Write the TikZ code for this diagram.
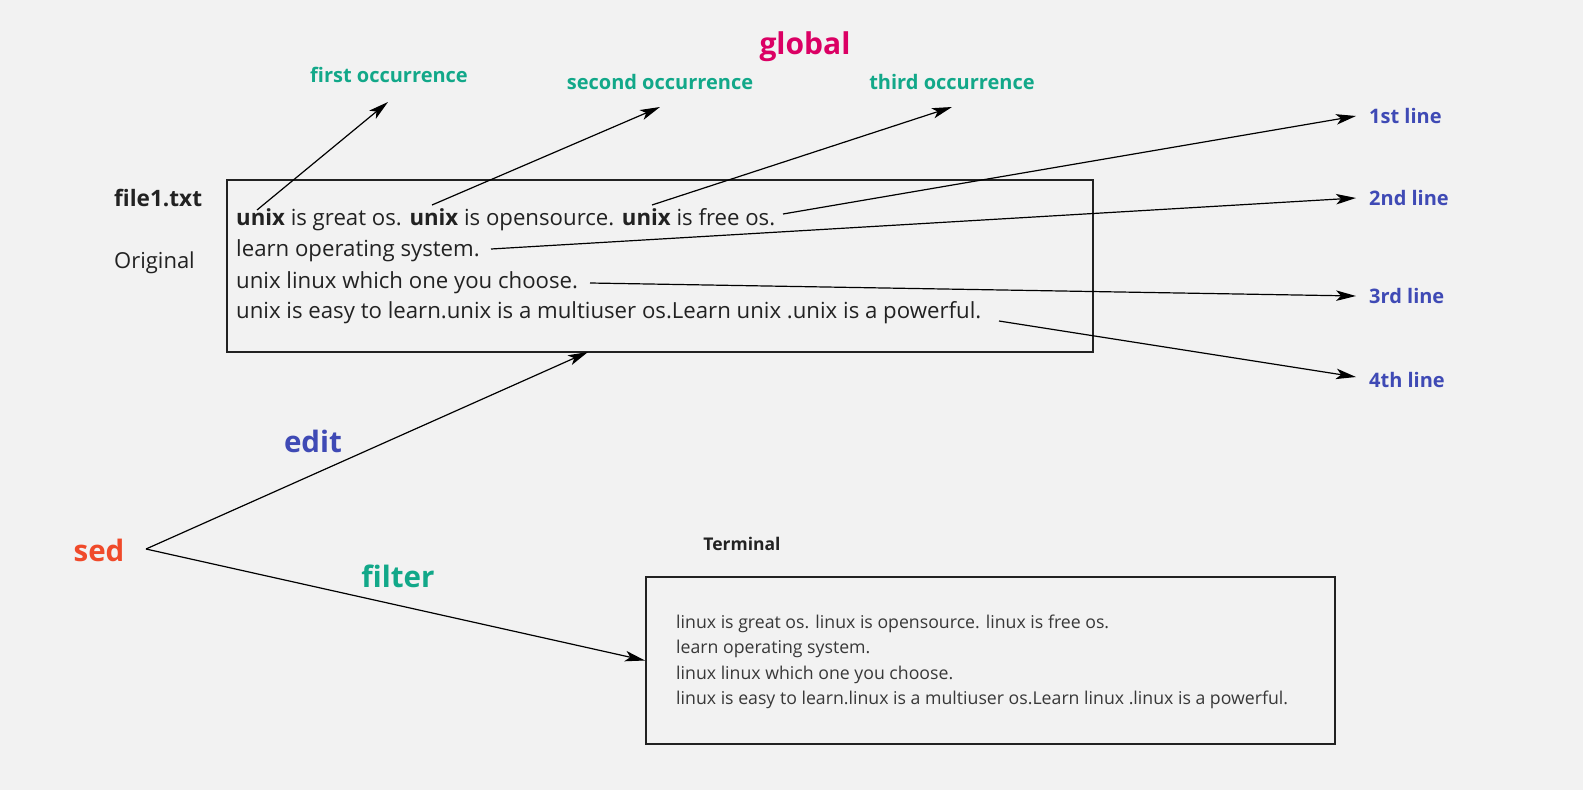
\documentclass[tikz,border=0pt]{standalone}
\usepackage{fontspec}
\setmainfont{Open Sans}
\usetikzlibrary{arrows.meta}
\definecolor{bg}{HTML}{F2F2F2}
\definecolor{ink}{HTML}{222222}
\definecolor{magen}{HTML}{DB0064}
\definecolor{teal}{HTML}{12A889}
\definecolor{blu}{HTML}{3F4AB5}
\definecolor{orng}{HTML}{F04A2A}
\tikzset{
  frame/.style={draw=ink, line width=2pt, minimum width=#1, inner sep=0pt},
  bodytxt/.style={inner sep=0pt, anchor=base west, text=ink, font=\fontsize{22.2}{26}\selectfont},
  termtxt/.style={inner sep=0pt, anchor=base west, text=ink!90, font=\fontsize{17.7}{21}\selectfont},
  occ/.style={inner sep=0pt, text=teal, font=\bfseries\fontsize{20}{24}\selectfont},
  linelbl/.style={inner sep=0pt, anchor=west, text=blu, font=\bfseries\fontsize{20}{24}\selectfont},
  big/.style={inner sep=0pt, font=\bfseries\fontsize{29.5}{34}\selectfont},
  arr/.style={draw=black, line width=1.2pt, -{Stealth[length=20pt,width=10.5pt,inset=5pt]}},
  plain/.style={draw=black, line width=1.2pt}
}
\begin{document}
\begin{tikzpicture}[x=1pt,y=-1pt]
\fill[bg] (0,0) rectangle (1583,790);
\useasboundingbox (0,0) rectangle (1583,790);

% boxes
\node[frame=866, minimum height=172] (box1) at (660,266) {};
\node[frame=689, minimum height=167] (term) at (990.5,660.5) {};

% side labels
\node[inner sep=0pt, anchor=west, text=ink, font=\bfseries\fontsize{22.6}{26}\selectfont] (file) at (114,198) {file1.txt};
\node[inner sep=0pt, anchor=west, text=ink, font=\fontsize{22}{26}\selectfont] (orig) at (114,263) {Original};

% file text
\node[bodytxt] (r1) at (236,225) {\textbf{unix} is great os. \textbf{unix} is opensource. \textbf{unix} is free os.};
\node[bodytxt] (r2) at (236,256) {learn operating system.};
\node[bodytxt] (r3) at (236,288) {unix linux which one you choose.};
\node[bodytxt] (r4) at (236,318) {unix is easy to learn.unix is a multiuser os.Learn unix .unix is a powerful.};

% terminal
\node[inner sep=0pt, text=ink, font=\bfseries\fontsize{17.5}{21}\selectfont] (termlbl) at (742,544) {Terminal};
\node[termtxt] (t1) at (676,628) {linux is great os. linux is opensource. linux is free os.};
\node[termtxt] (t2) at (676,653) {learn operating system.};
\node[termtxt] (t3) at (676,679) {linux linux which one you choose.};
\node[termtxt] (t4) at (676,704) {linux is easy to learn.linux is a multiuser os.Learn linux .linux is a powerful.};

% top labels
\node[big, text=magen, font=\bfseries\fontsize{30}{34}\selectfont] (glob) at (805,47) {global};
\node[occ] (o1) at (389,75) {first occurrence};
\node[occ] (o2) at (660,82) {second occurrence};
\node[occ] (o3) at (952,82) {third occurrence};

% line labels
\node[linelbl] (l1) at (1369,116) {1st line};
\node[linelbl] (l2) at (1369,198) {2nd line};
\node[linelbl] (l3) at (1369,296) {3rd line};
\node[linelbl] (l4) at (1369,380) {4th line};

% sed labels
\node[big, text=orng] (sed) at (99,550) {sed};
\node[big, text=blu] (edit) at (313,441) {edit};
\node[big, text=teal] (filt) at (398,576) {filter};

% coordinates
\coordinate (s1) at (257,210);
\coordinate (s2) at (432,205);
\coordinate (s3) at (652,205);
\coordinate (e1) at (388,102);
\coordinate (e2) at (660,107);
\coordinate (e3) at (952,107);
\coordinate (a1) at (783,214);
\coordinate (a2) at (491,249);
\coordinate (a3) at (590,283);
\coordinate (a4) at (999,321);
\coordinate (b1) at (1356,116);
\coordinate (b2) at (1356,198);
\coordinate (b3) at (1356,296);
\coordinate (b4) at (1356,377);
\coordinate (sp) at (146,549);
\coordinate (ed) at (588,352);

\draw[arr] (s1) -- (e1);
\draw[arr] (s2) -- (e2);
\draw[arr] (s3) -- (e3);
\draw[arr] (a1) -- (b1);
\draw[arr] (a2) -- (b2);
\draw[arr] (a3) -- (b3);
\draw[arr] (a4) -- (b4);
\draw[arr] (sp) -- (ed);
\draw[arr] (sp) -- (term.west);
\end{tikzpicture}
\end{document}
